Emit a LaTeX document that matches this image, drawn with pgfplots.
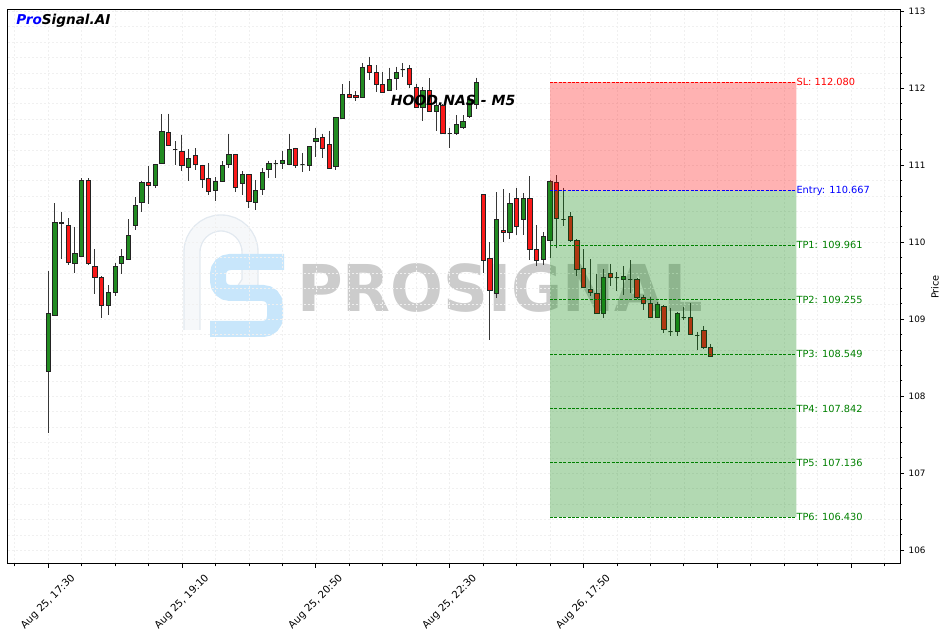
\documentclass[border=0pt]{standalone}
\usepackage{fontspec}
\setmainfont{DejaVu Sans}
\usepackage{pgfplots}
\usepackage{pgfplotstable}
\pgfplotsset{compat=1.18}
\definecolor{cgreen}{RGB}{34,139,34}
\definecolor{cred}{RGB}{250,25,25}
\definecolor{edgec}{RGB}{35,35,35}
\definecolor{wickc}{RGB}{55,55,55}
\definecolor{tpgreen}{RGB}{0,128,0}
\definecolor{gridc}{RGB}{240,240,240}
\definecolor{wmgray}{RGB}{204,204,204}
\definecolor{logoblue}{RGB}{200,230,251}
\definecolor{logolight}{RGB}{246,248,250}
\definecolor{logoedge}{RGB}{226,233,240}
\pgfdeclareplotmark{nothing}{}
\newcommand\ytickfont{\fontsize{6.6}{7.5}\selectfont}
\newcommand\xtickfont{\fontsize{7.6}{8.5}\selectfont}
\newcommand\lblfont{\fontsize{7.35}{8.5}\selectfont}
\pgfplotstableread{
i o h l c
0 108.32 109.63 107.52 109.08
1 109.05 110.51 109.04 110.26
2 110.25 110.39 109.78 110.26
3 110.22 110.31 109.71 109.74
4 109.73 110.20 109.60 109.86
5 109.82 110.83 109.81 110.81
6 110.81 110.83 109.71 109.73
7 109.69 109.91 109.33 109.55
8 109.55 109.56 109.02 109.18
9 109.18 109.44 109.05 109.35
10 109.35 109.73 109.30 109.69
11 109.72 109.91 109.59 109.82
12 109.78 110.30 109.77 110.09
13 110.22 110.59 110.16 110.48
14 110.52 110.80 110.39 110.78
15 110.78 110.99 110.50 110.74
16 110.74 111.02 110.70 111.01
17 111.03 111.66 111.02 111.44
18 111.43 111.67 111.25 111.26
19 111.21 111.31 111.00 111.21
20 111.18 111.40 110.93 111.00
21 110.97 111.21 110.80 111.09
22 111.13 111.22 110.94 111.01
23 111.00 111.01 110.70 110.82
24 110.83 111.03 110.61 110.66
25 110.68 110.85 110.54 110.79
26 110.79 111.05 110.78 111.00
27 111.01 111.41 110.97 111.14
28 111.14 111.15 110.65 110.71
29 110.77 110.92 110.61 110.88
30 110.88 110.89 110.44 110.53
31 110.52 110.81 110.42 110.68
32 110.69 110.96 110.62 110.91
33 110.95 111.06 110.84 111.03
34 111.02 111.07 110.84 111.02
35 111.03 111.19 110.95 111.06
36 111.01 111.41 111.00 111.21
37 111.22 111.23 110.97 111.00
38 111.01 111.16 110.91 111.01
39 111.00 111.25 110.93 111.25
40 111.31 111.49 111.11 111.35
41 111.36 111.41 111.10 111.22
42 111.27 111.45 110.96 110.96
43 110.99 111.62 110.94 111.62
44 111.61 112.05 111.60 111.92
45 111.92 112.10 111.87 111.88
46 111.91 111.96 111.84 111.88
47 111.88 112.33 111.87 112.27
48 112.30 112.41 112.11 112.21
49 112.21 112.30 111.95 112.05
50 112.05 112.21 111.94 111.95
51 111.97 112.27 111.96 112.11
52 112.13 112.28 111.98 112.21
53 112.24 112.33 112.15 112.24
54 112.26 112.30 112.00 112.05
55 112.01 112.06 111.74 111.75
56 111.75 112.02 111.57 111.97
57 111.97 112.13 111.69 111.70
58 111.70 111.84 111.44 111.78
59 111.78 111.79 111.42 111.42
60 111.42 111.49 111.22 111.42
61 111.41 111.65 111.40 111.53
62 111.49 111.65 111.47 111.57
63 111.64 111.90 111.62 111.86
64 111.79 112.14 111.73 112.08
65 110.62 110.63 109.60 109.76
66 109.79 110.00 108.73 109.38
67 109.34 110.65 109.28 110.30
68 110.16 110.69 110.01 110.13
69 110.13 110.64 110.04 110.51
70 110.57 110.70 110.09 110.21
71 110.30 110.64 110.09 110.57
72 110.57 110.86 109.77 109.91
73 109.91 110.22 109.69 109.77
74 109.78 110.13 109.70 110.08
75 110.03 110.81 109.79 110.79
76 110.78 110.87 109.92 110.31
77 110.30 110.71 110.21 110.30
78 110.33 110.39 110.00 110.03
79 110.03 110.04 109.56 109.65
80 109.66 109.91 109.40 109.42
81 109.39 109.78 109.30 109.35
82 109.34 109.59 109.07 109.08
83 109.08 109.65 109.02 109.55
84 109.60 109.72 109.43 109.54
85 109.54 109.61 109.37 109.54
86 109.52 109.69 109.31 109.56
87 109.52 109.77 109.34 109.52
88 109.52 109.53 109.27 109.28
89 109.28 109.31 109.12 109.21
90 109.21 109.29 109.02 109.03
91 109.03 109.22 109.02 109.19
92 109.17 109.18 108.82 108.87
93 108.84 109.15 108.78 108.84
94 108.84 109.09 108.78 109.08
95 109.02 109.16 108.99 109.02
96 109.03 109.21 108.80 108.81
97 108.79 108.84 108.60 108.79
98 108.85 108.91 108.62 108.64
99 108.64 108.68 108.51 108.52
}\candles
\begin{document}
\begin{tikzpicture}
\path[use as bounding box] (-6pt,-53.25pt) rectangle (704.25pt,423pt);
% watermark (pixel coordinates)
\begin{scope}[x=0.75pt,y=-0.75pt,shift={(-6pt,423pt)}]
  \draw[logoedge, line width=13pt] (192,330) -- (192,252) arc[start angle=180, end angle=360, radius=29] -- (250,282) -- (240,297);
  \draw[logolight, line width=11pt] (192,330) -- (192,252) arc[start angle=180, end angle=360, radius=29] -- (250,282) -- (240,297);
  \draw[logoblue, line width=12pt, rounded corners=9pt] (284,262) -- (218,262) -- (218,293) -- (275,293) -- (275,329) -- (210,329);
  \node[text=wmgray, font=\fontsize{48.4}{50}\selectfont\bfseries, xscale=0.965, inner sep=0pt] at (500,288) {PROSIGNAL};
\end{scope}
\begin{axis}[
  at={(0,0)}, anchor=south west,
  scale only axis, width=669pt, height=415.5pt,
  xmin=-6, xmax=127.3, ymin=105.822, ymax=113.017,
  clip=false, clip marker paths=true,
  axis line style={line width=0.75pt, black},
  xtick={0,20,40,60,80,100,120},
  xticklabels={{Aug 25, 17:30},{Aug 25, 19:10},{Aug 25, 20:50},{Aug 25, 22:30},{Aug 26, 17:50},{},{}},
  minor xtick={-5,5,10,15,25,30,35,45,50,55,65,70,75,85,90,95,105,110,115,125},
  ytick={106,107,108,109,110,111,112,113},
  minor y tick num=4,
  xtick pos=left, ytick pos=right, yticklabel pos=right,
  tick align=outside,
  major tick length=3pt, minor tick length=1.8pt,
  tick style={black, line width=0.6pt},
  grid=both,
  major grid style={gridc, line width=0.4pt, dash pattern=on 1.5pt off 1.5pt},
  minor grid style={gridc, line width=0.4pt, dash pattern=on 1.5pt off 1.5pt},
  xticklabel style={font=\xtickfont, yshift=-25.5pt, rotate=45, anchor=center},
  yticklabel style={font=\ytickfont},
  /pgf/number format/assume math mode=true,
]
\addplot[scatter, only marks, mark=nothing,
  visualization depends on={\thisrow{o}-\thisrow{c} \as \dO},
  visualization depends on={\thisrow{h}-\thisrow{c} \as \dH},
  visualization depends on={\thisrow{l}-\thisrow{c} \as \dL},
  scatter/@pre marker code/.code={%
    \pgfmathparse{\dO>0 ? 1 : 0}%
    \ifdim\pgfmathresult pt>0.5pt\def\bodycol{cred}\else\def\bodycol{cgreen}\fi
    \draw[wickc, line width=0.75pt] (axis direction cs:0,\dH) -- (axis direction cs:0,\dL);
    \filldraw[fill=\bodycol, draw=edgec, line width=0.6pt] (axis direction cs:-0.32,\dO) rectangle (axis direction cs:0.32,0);
  },
  scatter/@post marker code/.code={},
] table[x=i, y=c] {\candles};
% zones
\addplot[draw=none, fill=red, fill opacity=0.3] coordinates {(75,110.667) (111.8,110.667) (111.8,112.08) (75,112.08) (75,110.667)};
\addplot[draw=none, fill=tpgreen, fill opacity=0.3] coordinates {(75,106.43) (111.8,106.43) (111.8,110.667) (75,110.667) (75,106.43)};
% levels
\addplot[red, line width=0.75pt, dash pattern=on 2.2pt off 1.1pt] coordinates {(75,112.08) (111.8,112.08)};
\addplot[blue, line width=0.75pt, dash pattern=on 2.2pt off 1.1pt] coordinates {(75,110.667) (111.8,110.667)};
\addplot[tpgreen, line width=0.75pt, dash pattern=on 2.2pt off 1.1pt] coordinates {(75,109.961) (111.8,109.961)};
\addplot[tpgreen, line width=0.75pt, dash pattern=on 2.2pt off 1.1pt] coordinates {(75,109.255) (111.8,109.255)};
\addplot[tpgreen, line width=0.75pt, dash pattern=on 2.2pt off 1.1pt] coordinates {(75,108.549) (111.8,108.549)};
\addplot[tpgreen, line width=0.75pt, dash pattern=on 2.2pt off 1.1pt] coordinates {(75,107.842) (111.8,107.842)};
\addplot[tpgreen, line width=0.75pt, dash pattern=on 2.2pt off 1.1pt] coordinates {(75,107.136) (111.8,107.136)};
\addplot[tpgreen, line width=0.75pt, dash pattern=on 2.2pt off 1.1pt] coordinates {(75,106.43) (111.8,106.43)};
\node[anchor=west, inner sep=0pt, text=red, font=\lblfont] at (axis cs:111.8,112.08) {SL: 112.080};
\node[anchor=west, inner sep=0pt, text=blue, font=\lblfont] at (axis cs:111.8,110.667) {Entry: 110.667};
\node[anchor=west, inner sep=0pt, text=tpgreen, font=\lblfont] at (axis cs:111.8,109.961) {TP1: 109.961};
\node[anchor=west, inner sep=0pt, text=tpgreen, font=\lblfont] at (axis cs:111.8,109.255) {TP2: 109.255};
\node[anchor=west, inner sep=0pt, text=tpgreen, font=\lblfont] at (axis cs:111.8,108.549) {TP3: 108.549};
\node[anchor=west, inner sep=0pt, text=tpgreen, font=\lblfont] at (axis cs:111.8,107.842) {TP4: 107.842};
\node[anchor=west, inner sep=0pt, text=tpgreen, font=\lblfont] at (axis cs:111.8,107.136) {TP5: 107.136};
\node[anchor=west, inner sep=0pt, text=tpgreen, font=\lblfont] at (axis cs:111.8,106.43) {TP6: 106.430};
\node[font=\fontsize{10.5}{12}\selectfont\bfseries\itshape] at (rel axis cs:0.499,0.8375) {HOOD.NAS - M5};
\node[anchor=west, inner sep=0pt, font=\fontsize{10.2}{11}\selectfont\bfseries\itshape] at (rel axis cs:0.009,0.980) {\textcolor{blue}{Pro}Signal.AI};
\node[rotate=90, font=\lblfont] at (rel axis cs:1,0.5) [yshift=-26.25pt] {Price};
\end{axis}
\end{tikzpicture}
\end{document}
